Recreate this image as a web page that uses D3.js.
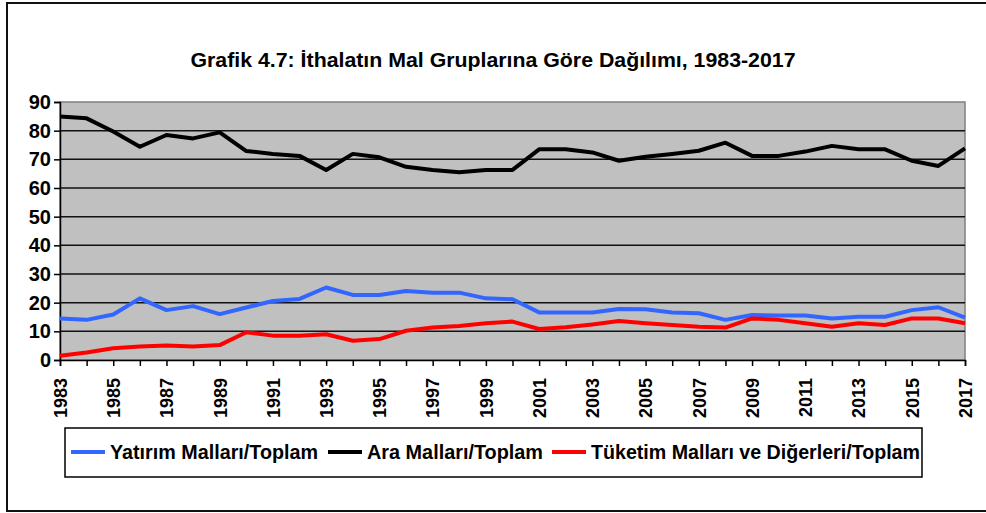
<!DOCTYPE html>
<html>
<head>
<meta charset="utf-8">
<script src="https://cdn.jsdelivr.net/npm/d3@7"></script>
<style>
body{margin:0;background:#fff;}
svg{display:block;font-family:"Liberation Sans",Arial,sans-serif;}
</style>
</head>
<body>
<script>
// yillar ve seriler
const years=d3.range(1983,2018);
const yatirim=[14.5,14.0,15.9,21.5,17.4,18.8,16.0,18.3,20.6,21.3,25.3,22.7,22.7,24.1,23.5,23.5,21.5,21.2,16.6,16.6,16.6,17.8,17.7,16.6,16.3,14.0,15.7,15.5,15.5,14.5,15.1,15.1,17.4,18.4,14.8];
const ara=[84.9,84.3,79.7,74.4,78.5,77.3,79.4,72.9,71.9,71.2,66.3,71.9,70.7,67.4,66.3,65.5,66.3,66.3,73.5,73.5,72.4,69.5,70.9,71.9,73.0,75.8,71.2,71.2,72.7,74.7,73.5,73.5,69.5,67.7,73.8];
const tuketim=[1.5,2.6,4.1,4.7,5.1,4.7,5.2,9.7,8.5,8.5,9.0,6.7,7.3,10.2,11.3,11.9,12.8,13.4,10.8,11.4,12.4,13.6,12.8,12.2,11.6,11.3,14.5,14.0,12.8,11.6,12.8,12.2,14.5,14.5,12.8];
const yTicks=d3.range(0,91,10);
const seriesNames=["Yatırım Malları/Toplam","Ara Malları/Toplam","Tüketim Malları ve Diğerleri/Toplam"];
const colors=["#3366ff","#000000","#ff0000"];
const title="Grafik 4.7: İthalatın Mal Gruplarına Göre Dağılımı, 1983-2017";

let W=986,H=513;
let m={l:60,r:21,t:102,b:153};
let svg=d3.select("body").append("svg").attr("width",W).attr("height",H);

// dis cerceve
svg.append("rect").attr("x",7).attr("y",3).attr("width",W+10).attr("height",508)
    .attr("fill","none").attr("stroke","#111").attr("stroke-width",2);

svg.append("text").attr("x",493).attr("y",67).attr("text-anchor","middle")
    .attr("font-size",20).attr("font-weight","bold")
    .attr("textLength",605).attr("lengthAdjust","spacingAndGlyphs").text(title);

let x=d3.scaleLinear().domain([1983,2017]).range([m.l,W-m.r]);
let y=d3.scaleLinear().domain([0,90]).range([H-m.b,m.t]);

let g=svg.append("g");
g.append("rect").attr("x",m.l).attr("y",m.t).attr("width",x(2017)-m.l).attr("height",y(0)-m.t)
    .attr("fill","#c0c0c0").attr("stroke","#808080").attr("stroke-width",1.5);

g.selectAll(".grid").data(yTicks.filter(d=>d>0&&d<90)).enter().append("line")
    .attr("x1",m.l).attr("x2",x(2017)).attr("y1",d=>y(d)).attr("y2",d=>y(d))
    .attr("stroke","#111").attr("stroke-width",1.5);

// y ekseni
let ya=g.append("g").attr("transform",`translate(${m.l},0)`)
    .call(d3.axisLeft(y).tickValues(yTicks).tickSize(6).tickPadding(3));
ya.select(".domain").attr("stroke","#000").attr("stroke-width",1.5);
ya.selectAll("line").attr("stroke","#000").attr("stroke-width",1.5);
ya.selectAll("text").attr("font-size",20).attr("font-weight","bold").attr("fill","#000")
    .attr("font-family","Liberation Sans, Arial, sans-serif");

// x ekseni
let xa=g.append("g").attr("transform",`translate(0,${y(0)})`)
    .call(d3.axisBottom(x).tickValues(years).tickSize(6).tickFormat(d=>(d-1983)%2==0?d:""));
xa.select(".domain").attr("stroke","#000").attr("stroke-width",1.5);
xa.selectAll("line").attr("stroke","#000").attr("stroke-width",1.5);
xa.selectAll("text").attr("font-size",18).attr("font-weight","bold").attr("fill","#000")
    .attr("font-family","Liberation Sans, Arial, sans-serif")
    .attr("transform","rotate(-90)").attr("text-anchor","end")
    .attr("x",-18).attr("y",0).attr("dy","0.35em");

let line=d3.line().x((d,i)=>x(years[i])).y(d=>y(d));
[yatirim,ara,tuketim].forEach((s,i)=>{
    g.append("path").datum(s).attr("d",line).attr("fill","none")
        .attr("stroke",colors[i]).attr("stroke-width",4).attr("stroke-linejoin","round");
});

// lejant
let lg=svg.append("g");
lg.append("rect").attr("x",65).attr("y",428).attr("width",857).attr("height",49)
    .attr("fill","#fff").attr("stroke","#000").attr("stroke-width",1.5);
let lx=[71,328,552];
let tw=[208,176,329];
seriesNames.forEach((n,i)=>{
    lg.append("line").attr("x1",lx[i]).attr("x2",lx[i]+34).attr("y1",452).attr("y2",452)
        .attr("stroke",colors[i]).attr("stroke-width",4);
    lg.append("text").attr("x",lx[i]+39).attr("y",459).attr("font-size",20)
        .attr("font-weight","bold").attr("textLength",tw[i]).attr("lengthAdjust","spacingAndGlyphs").text(n);
});
</script>
</body>
</html>
